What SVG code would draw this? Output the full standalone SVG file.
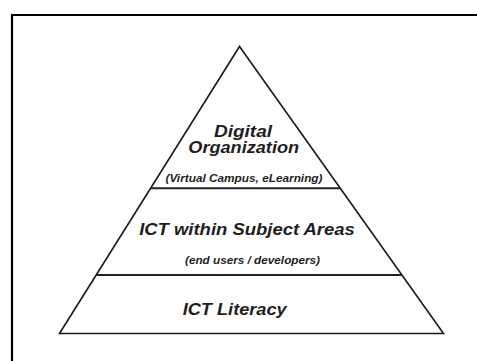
<svg xmlns="http://www.w3.org/2000/svg" width="477" height="361" viewBox="0 0 477 361">
  <style>
    .edge { fill: none; stroke: #1a1a1a; stroke-width: 1.6; stroke-linejoin: miter; }
    .band { stroke: #222; stroke-width: 2; }
    .title { font-family: "Liberation Sans", Arial, sans-serif; font-weight: bold; font-style: italic; fill: #1e1e1e; text-anchor: middle; }
    .big { font-size: 16px; }
    .small { font-size: 10px; }
  </style>
  <rect width="477" height="361" fill="#ffffff"/>
  <!-- frame: only left and top edges fall inside the view -->
  <path d="M12 361 V15 H477" fill="none" stroke="#000" stroke-width="2.2"/>

  <g id="pyramid-outline">
    <polygon class="edge" points="239.5,46.5 59.5,333.5 443.5,333.5"/>
  </g>

  <g id="connectors">
    <line class="band" x1="150.6" y1="188.3" x2="340.3" y2="188.3"/>
    <line class="band" x1="96.2" y1="275" x2="401.9" y2="275"/>
  </g>

  <g id="digital-organization">
    <text class="title big" x="243" y="137" textLength="58" lengthAdjust="spacingAndGlyphs">Digital</text>
    <text class="title big" x="243.7" y="153" textLength="110.7" lengthAdjust="spacingAndGlyphs">Organization</text>
    <text class="title small" x="244" y="181.5" textLength="157" lengthAdjust="spacingAndGlyphs">(Virtual Campus, eLearning)</text>
  </g>

  <g id="ict-subject-areas">
    <text class="title big" x="247" y="235" textLength="215.7" lengthAdjust="spacingAndGlyphs">ICT within Subject Areas</text>
    <text class="title small" x="252.5" y="264" textLength="135" lengthAdjust="spacingAndGlyphs">(end users / developers)</text>
  </g>

  <g id="ict-literacy">
    <text class="title big" x="234.7" y="315" textLength="104" lengthAdjust="spacingAndGlyphs">ICT Literacy</text>
  </g>
</svg>
